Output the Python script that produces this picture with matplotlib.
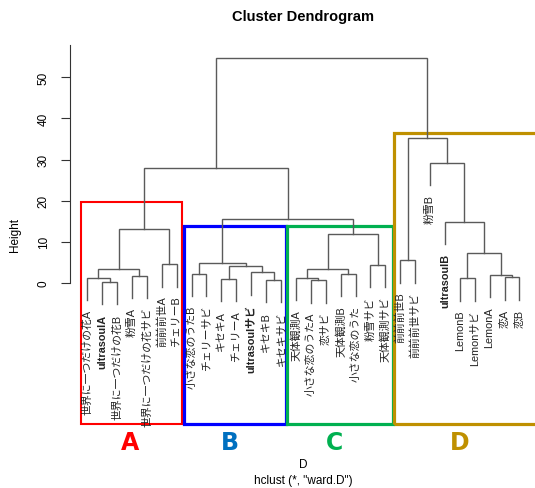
import matplotlib
matplotlib.use("Agg")
import matplotlib.pyplot as plt
from matplotlib.patches import Rectangle

plt.rcParams['font.family'] = ['Liberation Sans', 'Noto Sans CJK JP', 'DejaVu Sans']

# leaf labels, in dendrogram order (left to right)
labels = [
    "世界に一つだけの花A", "ultrasoulA", "世界に一つだけの花B", "粉雪A",
    "世界に一つだけの花サビ", "前前前世A", "チェリーB",
    "小さな恋のうたB", "チェリーサビ", "キセキA", "チェリーA",
    "ultrasoulサビ", "キセキB", "キセキサビ",
    "天体観測A", "小さな恋のうたA", "恋サビ", "天体観測B", "小さな恋のうた",
    "粉雪サビ", "天体観測サビ",
    "前前前世B", "前前前世サビ", "粉雪B", "ultrasoulB", "LemonB",
    "Lemonサビ", "LemonA", "恋A", "恋B",
]

# merge table like R's hclust: negative = leaf position, positive = earlier merge step
merge_a = [-2, -1, -4, 2, -6, 4, -8, -10, -13, -12, 8, 7, -16, -15, -18, 14, -20, 16,
           12, 6, -22, -29, -28, -26, 24, -25, -24, 21, 20]
merge_b = [-3, 1, -5, 3, -7, 5, -9, -11, -14, 9, 10, 11, -17, 13, -19, 15, -21, 17,
           18, 19, -23, -30, 22, -27, 23, 25, 26, 27, 28]
heights = [0.2, 1.3, 1.8, 3.5, 4.5, 13.1, 2.27, 0.97, 0.8, 2.6, 4.2, 4.86, 0.65, 1.3,
           2.27, 3.4, 4.4, 11.8, 15.56, 27.9, 5.5, 1.38, 1.94, 1.1, 7.4, 14.9, 29.2,
           35.2, 54.6]
hang = 5.4

# boxes around the 4 clusters
box_left = [0.56, 7.47, 14.41, 21.57]
box_right = [7.38, 14.32, 21.50, 31.5]
box_top = [19.6, 13.9, 13.9, 36.5]
box_colors = ['#FF0000', '#0000FF', '#00B050', '#BF9000']
box_lw = [1.5, 2.3, 2.3, 2.3]

group_names = ['A', 'B', 'C', 'D']
group_x = [3.9, 10.6, 17.6, 26.0]
group_colors = ['#FF0000', '#0070C0', '#00B050', '#BF9000']

ymin, ymax = -34.27, 57.85

fig = plt.figure(figsize=(5.35, 4.89), dpi=100)
ax = fig.add_axes([70 / 535, 1 - 425 / 489, (536.7 - 70) / 535, (425 - 46) / 489])
ax.set_xlim(-0.16, 31.16)
ax.set_ylim(ymin, ymax)

node_x = {}
leaf_end = {}


def child_pos(c, h):
    if c < 0:
        leaf_end[-c] = h - hang
        return -c, h - hang
    return node_x[c], heights[c - 1]


for i, (a, b) in enumerate(zip(merge_a, merge_b), start=1):
    h = heights[i - 1]
    xa, ya = child_pos(a, h)
    xb, yb = child_pos(b, h)
    ax.plot([xa, xa, xb, xb], [ya, h, h, yb], color='#5a5a5a', lw=1.0,
            solid_joinstyle='miter')
    node_x[i] = (xa + xb) / 2

for pos, lab in enumerate(labels, start=1):
    weight = 'bold' if lab.startswith('ultrasoul') else 'normal'
    ax.annotate(lab, (pos, leaf_end[pos]), xytext=(0, -6.5), textcoords='offset points',
                rotation=90, ha='center', va='top', fontsize=7.8, color='#222222',
                fontweight=weight, annotation_clip=False)

for l, r, t, c, lw in zip(box_left, box_right, box_top, box_colors, box_lw):
    ax.add_patch(Rectangle((l, ymin), r - l, t - ymin, fill=False, edgecolor=c,
                           lw=lw, clip_on=False))

for name, gx, c in zip(group_names, group_x, group_colors):
    ax.text(gx, -38.6, name, ha='center', va='center', fontsize=17,
            fontweight='bold', color=c, family='DejaVu Sans', clip_on=False)

for s in ['top', 'right', 'bottom']:
    ax.spines[s].set_visible(False)
ax.spines['left'].set_bounds(0, ymax)
ax.spines['left'].set_color('#333333')
ax.set_xticks([])
ax.set_yticks([0, 10, 20, 30, 40, 50])
ax.tick_params(axis='y', length=6.5, pad=8, labelsize=8.5, color='#333333')
for t in ax.get_yticklabels():
    t.set_rotation(90)
    t.set_va('center')

fig.text(15 / 535, 1 - 235 / 489, "Height", rotation=90, ha='center', va='center',
         fontsize=8.5)
fig.text(303 / 535, 1 - 17 / 489, "Cluster Dendrogram", ha='center', va='center',
         fontsize=10.5, fontweight='bold')
fig.text(303 / 535, 1 - 465 / 489, "D", ha='center', va='center', fontsize=8.5)
fig.text(303 / 535, 1 - 481 / 489, 'hclust (*, "ward.D")', ha='center', va='center',
         fontsize=8.5)

fig.savefig("out.png", dpi=100)
